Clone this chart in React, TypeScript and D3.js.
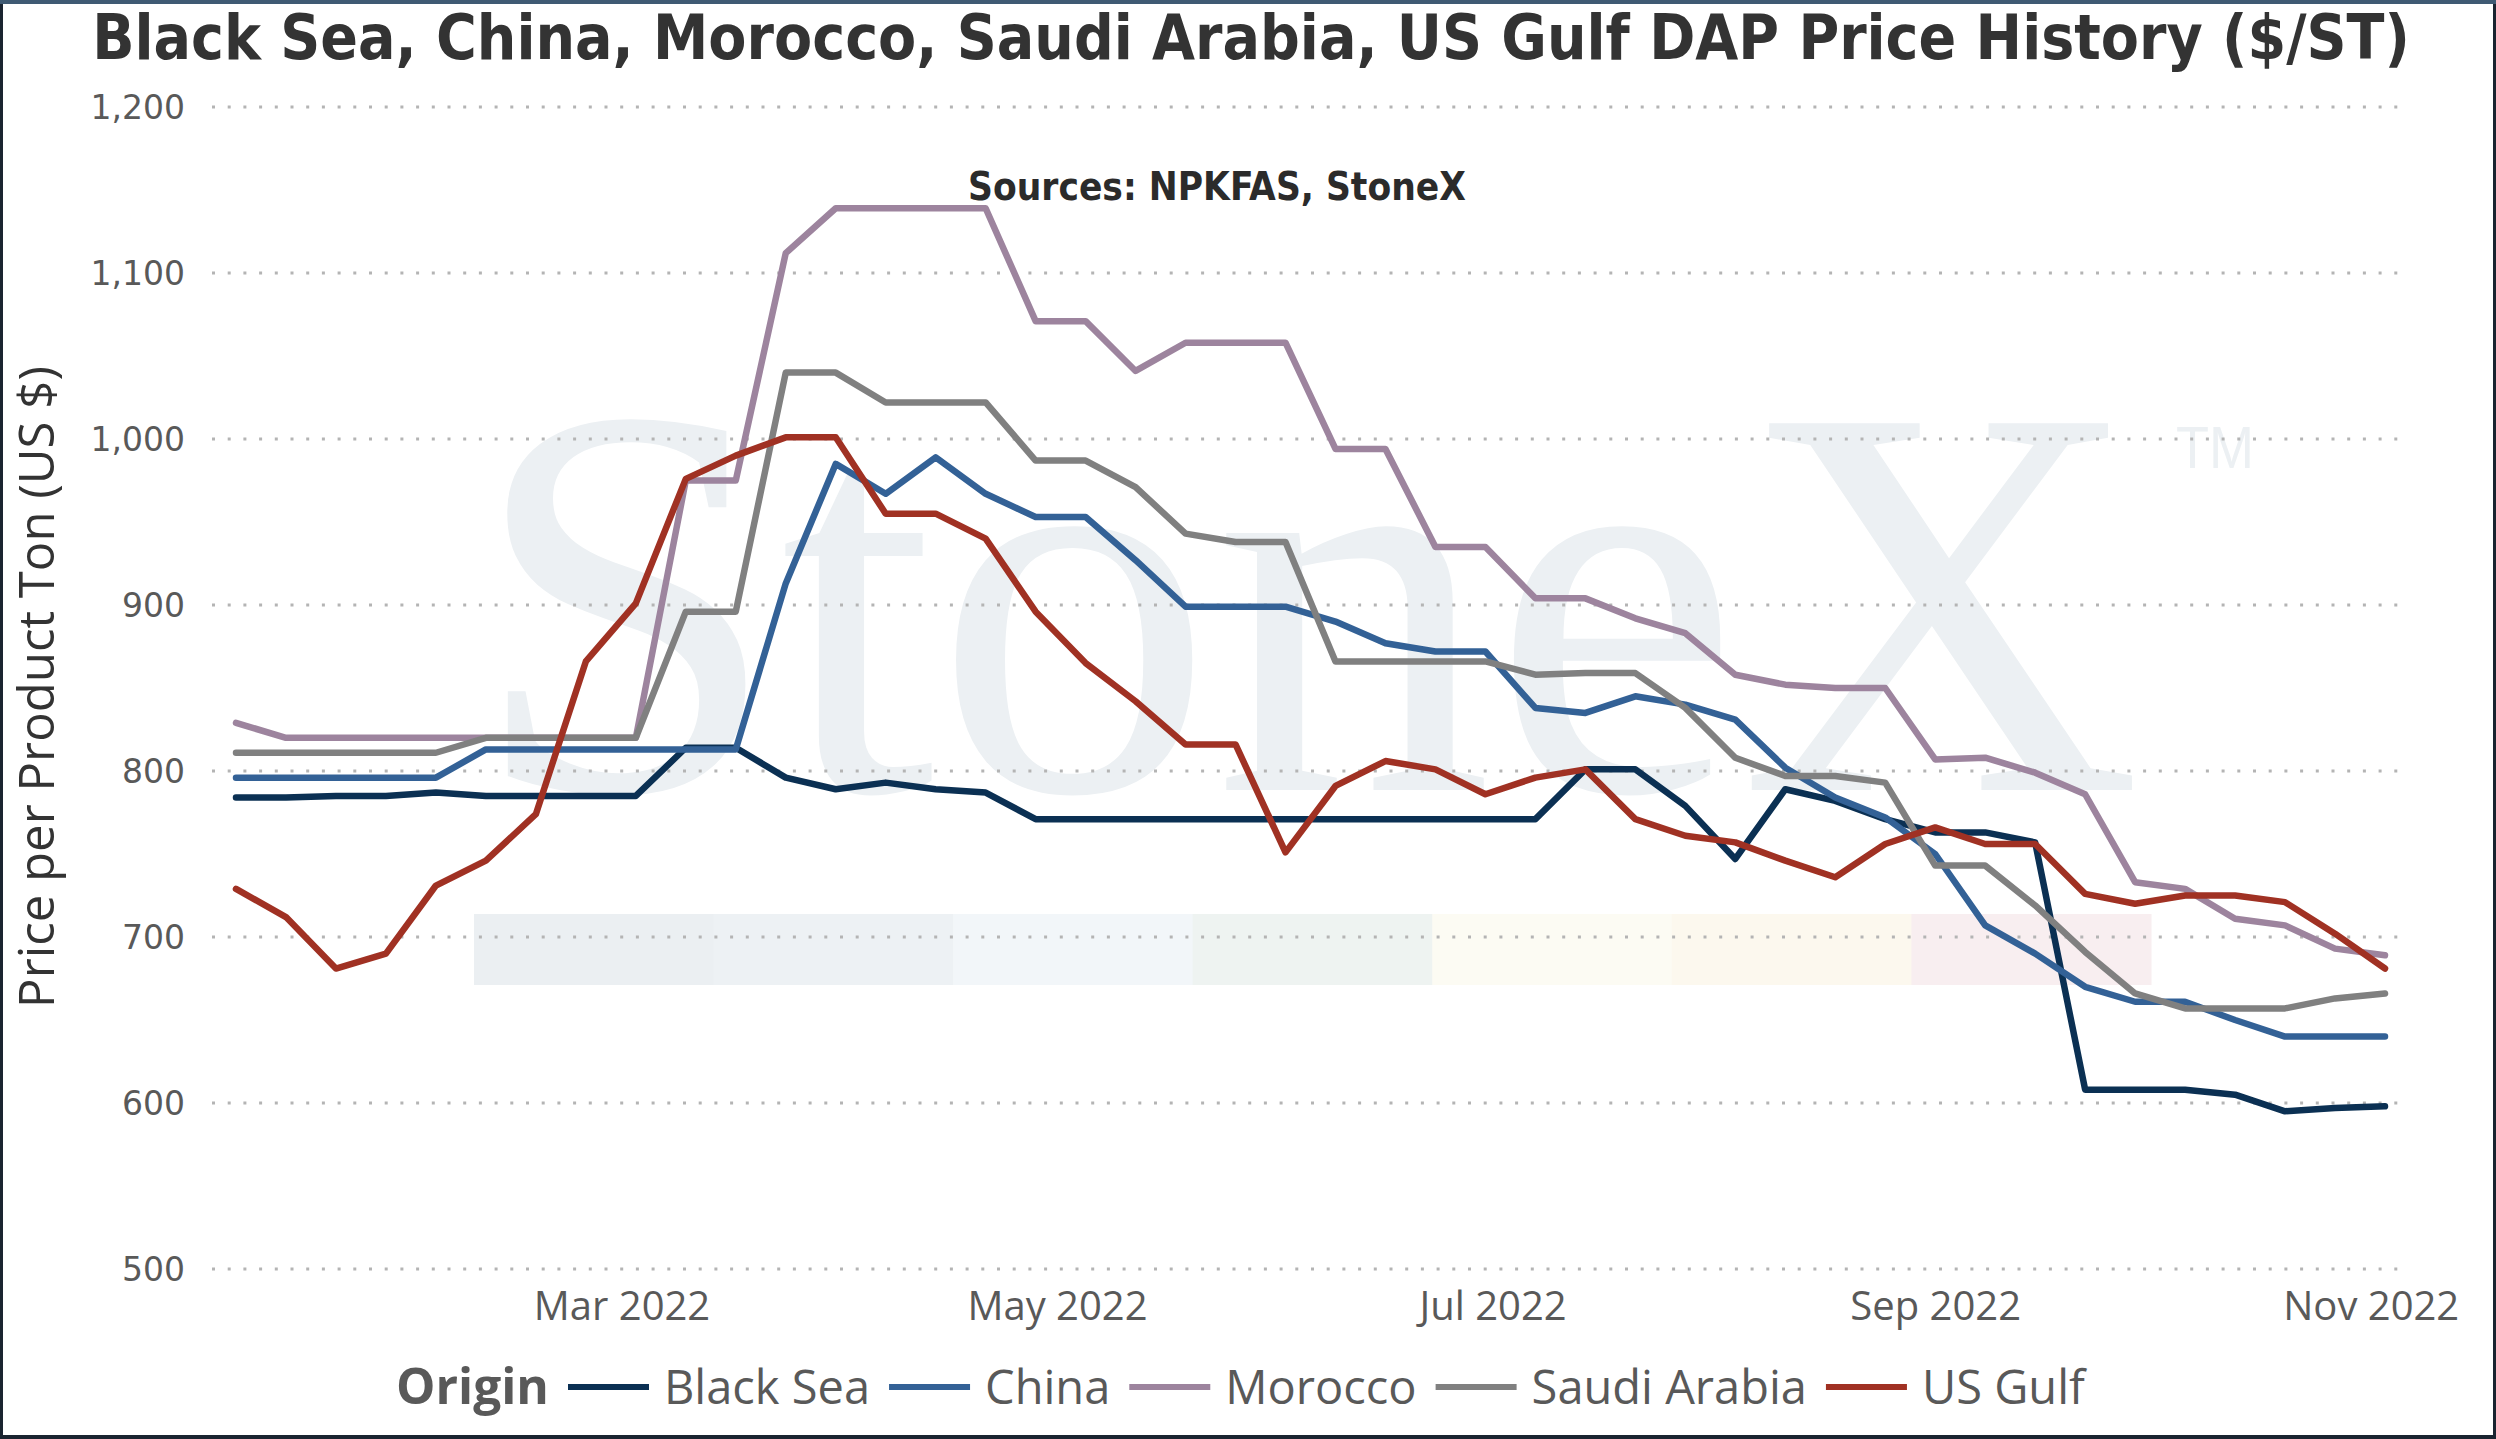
import React, { useEffect, useRef } from 'react';
import * as d3 from 'd3';

const weeks = [
	'2022-01-06', '2022-01-13', '2022-01-20', '2022-01-27', '2022-02-03', '2022-02-10', '2022-02-17', '2022-02-24',
	'2022-03-03', '2022-03-10', '2022-03-17', '2022-03-24', '2022-03-31', '2022-04-07', '2022-04-14', '2022-04-21',
	'2022-04-28', '2022-05-05', '2022-05-12', '2022-05-19', '2022-05-26', '2022-06-02', '2022-06-09', '2022-06-16',
	'2022-06-23', '2022-06-30', '2022-07-07', '2022-07-14', '2022-07-21', '2022-07-28', '2022-08-04', '2022-08-11',
	'2022-08-18', '2022-08-25', '2022-09-01', '2022-09-08', '2022-09-15', '2022-09-22', '2022-09-29', '2022-10-06',
	'2022-10-13', '2022-10-20', '2022-10-27', '2022-11-03',
];

const blackSea = [784, 784, 785, 785, 787, 785, 785, 785, 785, 814, 814, 796, 789, 793, 789, 787, 771, 771, 771, 771, 771, 771, 771, 771, 771, 771, 771, 801, 801, 779, 747, 789, 782, 771, 763, 763, 757, 608, 608, 608, 605, 595, 597, 598];
const china = [796, 796, 796, 796, 796, 813, 813, 813, 813, 813, 813, 913, 985, 967, 989, 967, 953, 953, 927, 899, 899, 899, 890, 877, 872, 872, 838, 835, 845, 840, 831, 802, 784, 772, 750, 707, 690, 670, 661, 661, 650, 640, 640, 640];
const morocco = [829, 820, 820, 820, 820, 820, 820, 820, 820, 975, 975, 1112, 1139, 1139, 1139, 1139, 1071, 1071, 1041, 1058, 1058, 1058, 994, 994, 935, 935, 904, 904, 892, 883, 858, 852, 850, 850, 807, 808, 799, 786, 733, 729, 711, 707, 693, 689];
const saudiArabia = [811, 811, 811, 811, 811, 820, 820, 820, 820, 896, 896, 1040, 1040, 1022, 1022, 1022, 987, 987, 971, 943, 938, 938, 866, 866, 866, 866, 858, 859, 859, 838, 808, 797, 797, 793, 743, 743, 719, 691, 666, 657, 657, 657, 663, 666];
const usGulf = [729, 712, 681, 690, 731, 746, 774, 866, 901, 976, 990, 1001, 1001, 955, 955, 940, 896, 865, 842, 816, 816, 751, 791, 806, 801, 786, 796, 801, 771, 761, 757, 746, 736, 756, 766, 756, 756, 726, 720, 725, 725, 721, 702, 681];

const origins = ['Black Sea', 'China', 'Morocco', 'Saudi Arabia', 'US Gulf'];
const seriesValues = [blackSea, china, morocco, saudiArabia, usGulf];
const colors = ['#0b3053', '#336196', '#9d849e', '#808080', '#a03123'];

const yTicks = [500, 600, 700, 800, 900, 1000, 1100, 1200];
const xTicks = ['2022-03-01', '2022-05-01', '2022-07-01', '2022-09-01', '2022-11-01'];

// watermark stripe colours of the logo
const stripeColors = ['#ebeff2', '#edf1f4', '#f2f6f9', '#eef3f1', '#fcfbf3', '#fcf8ee', '#f8eef0'];

const W = 2496;
const H = 1439;

const fitWidth = (sel: d3.Selection<SVGTextElement, unknown, null, undefined>, target: number) => {
	const node = sel.node();
	if (!node) return;
	const w = node.getComputedTextLength();
	const fs = parseFloat(sel.attr('font-size'));
	if (w > 0) sel.attr('font-size', (fs * target) / w);
};

export default function App() {
	const ref = useRef<SVGSVGElement | null>(null);

	useEffect(() => {
		if (!ref.current) return;
		const draw = () => {
			const svg = d3.select(ref.current as SVGSVGElement);
			svg.selectAll('*').remove();

			const parse = d3.timeParse('%Y-%m-%d');
			const dates = weeks.map((d) => parse(d) as Date);

			const x = d3.scaleTime().domain([dates[0], dates[dates.length - 1]]).range([236, 2385]);
			const y = d3.scaleLinear().domain([500, 1200]).range([1269, 107]);

			svg.append('rect').attr('width', W).attr('height', H).attr('fill', '#fff');

			// watermark
			const wm = svg.append('g');
			wm.append('text')
				.attr('x', 470)
				.attr('y', 790)
				.attr('font-family', '"Liberation Serif", "DejaVu Serif", serif')
				.attr('font-size', 560)
				.attr('fill', '#ecf0f3')
				.attr('textLength', 1672)
				.attr('lengthAdjust', 'spacingAndGlyphs')
				.text('StoneX');
			wm.append('text')
				.attr('x', 2176)
				.attr('y', 468)
				.attr('font-family', '"Liberation Sans", Arial, sans-serif')
				.attr('font-size', 60)
				.attr('fill', '#ecf0f3')
				.attr('textLength', 78)
				.attr('lengthAdjust', 'spacingAndGlyphs')
				.text('TM');
			const stripe = d3.scaleBand<number>().domain(d3.range(stripeColors.length)).range([474, 2151]);
			wm.selectAll('rect.stripe')
				.data(stripeColors)
				.enter()
				.append('rect')
				.attr('class', 'stripe')
				.attr('x', (_, i) => stripe(i)!)
				.attr('y', 914)
				.attr('width', stripe.bandwidth() + 0.5)
				.attr('height', 71)
				.attr('fill', (d) => d);

			// grid
			svg.append('g')
				.selectAll('line')
				.data(yTicks)
				.enter()
				.append('line')
				.attr('x1', 212)
				.attr('x2', 2404)
				.attr('y1', (d) => y(d))
				.attr('y2', (d) => y(d))
				.attr('stroke', '#b4b4b4')
				.attr('stroke-width', 3)
				.attr('stroke-dasharray', '3 12.7');

			// y axis
			const gy = svg.append('g').attr('transform', 'translate(185,0)')
				.call(d3.axisLeft(y).tickValues(yTicks).tickFormat(d3.format(',')).tickSize(0).tickPadding(0));
			gy.select('.domain').remove();
			gy.selectAll('text')
				.attr('font-family', '"DejaVu Sans", Verdana, sans-serif')
				.attr('font-size', 33)
				.attr('fill', '#595959')
				.attr('dy', '0.36em');

			// x axis
			const gx = svg.append('g').attr('transform', 'translate(0,1292)')
				.call(d3.axisBottom(x).tickValues(xTicks.map((d) => parse(d) as Date)).tickFormat(d3.timeFormat('%b %Y') as any).tickSize(0).tickPadding(0));
			gx.select('.domain').remove();
			gx.selectAll('text')
				.attr('font-family', '"Open Sans", "Segoe UI", sans-serif')
				.attr('font-size', 40)
				.attr('fill', '#595959')
				.attr('dy', '0.71em');

			// lines
			const line = d3.line<number>()
				.x((_, i) => x(dates[i]))
				.y((d) => y(d));
			svg.append('g')
				.selectAll('path')
				.data(seriesValues)
				.enter()
				.append('path')
				.attr('d', (d) => line(d))
				.attr('fill', 'none')
				.attr('stroke', (_, i) => colors[i])
				.attr('stroke-width', 6.5)
				.attr('stroke-linejoin', 'round')
				.attr('stroke-linecap', 'round');

			// titles
			const title = svg.append('text')
				.attr('x', 1251)
				.attr('y', 59)
				.attr('text-anchor', 'middle')
				.attr('font-family', '"DejaVu Sans Condensed", "DejaVu Sans", sans-serif')
				.attr('font-stretch', 'condensed')
				.attr('font-weight', 'bold')
				.attr('font-size', 55)
				.attr('fill', '#333')
				.text('Black Sea, China, Morocco, Saudi Arabia, US Gulf DAP Price History ($/ST)');
			fitWidth(title, 2318);

			const sources = svg.append('text')
				.attr('x', 1217)
				.attr('y', 200)
				.attr('text-anchor', 'middle')
				.attr('font-family', '"DejaVu Sans Condensed", "DejaVu Sans", sans-serif')
				.attr('font-stretch', 'condensed')
				.attr('font-weight', 'bold')
				.attr('font-size', 33)
				.attr('fill', '#2b2b2b')
				.text('Sources: NPKFAS, StoneX');
			fitWidth(sources, 498);

			const ylab = svg.append('text')
				.attr('transform', 'translate(54,687) rotate(-90)')
				.attr('text-anchor', 'middle')
				.attr('font-family', '"Open Sans", "Segoe UI", sans-serif')
				.attr('font-size', 44)
				.attr('fill', '#333')
				.text('Price per Product Ton (US $)');
			fitWidth(ylab, 642);

			// legend
			const lg = svg.append('g').attr('transform', 'translate(0,1404)');
			const head = lg.append('text')
				.attr('x', 396)
				.attr('font-family', '"Open Sans", "Segoe UI", sans-serif')
				.attr('font-weight', 'bold')
				.attr('font-size', 48)
				.attr('fill', '#595959')
				.text('Origin');
			fitWidth(head, 153);
			let cx = 396 + 153 + 19;
			origins.forEach((name, i) => {
				lg.append('line')
					.attr('x1', cx)
					.attr('x2', cx + 81)
					.attr('y1', -17)
					.attr('y2', -17)
					.attr('stroke', colors[i])
					.attr('stroke-width', 6);
				const t = lg.append('text')
					.attr('x', cx + 96)
					.attr('font-family', '"Open Sans", "Segoe UI", sans-serif')
					.attr('font-size', 47)
					.attr('fill', '#595959')
					.text(name);
				const tw = (t.node() as SVGTextElement).getComputedTextLength();
				cx = cx + 96 + tw + 19;
			});

			// frame
			svg.append('rect')
				.attr('x', 1.5)
				.attr('y', 1.5)
				.attr('width', W - 3)
				.attr('height', H - 3)
				.attr('fill', 'none')
				.attr('stroke', '#1a2430')
				.attr('stroke-width', 3);
			svg.append('line').attr('x1', 0).attr('x2', W).attr('y1', 2).attr('y2', 2).attr('stroke', '#3f5a73').attr('stroke-width', 4);
			svg.append('line').attr('x1', 0).attr('x2', W).attr('y1', H - 2).attr('y2', H - 2).attr('stroke', '#1a2430').attr('stroke-width', 4);
		};
		if (document.fonts && document.fonts.ready) {
			document.fonts.ready.then(draw);
		} else {
			draw();
		}
	}, []);

	return (
		<svg
			ref={ref}
			width={W}
			height={H}
			viewBox={`0 0 ${W} ${H}`}
			style={{ position: 'absolute', left: 0, top: 0, display: 'block' }}
		/>
	);
}
